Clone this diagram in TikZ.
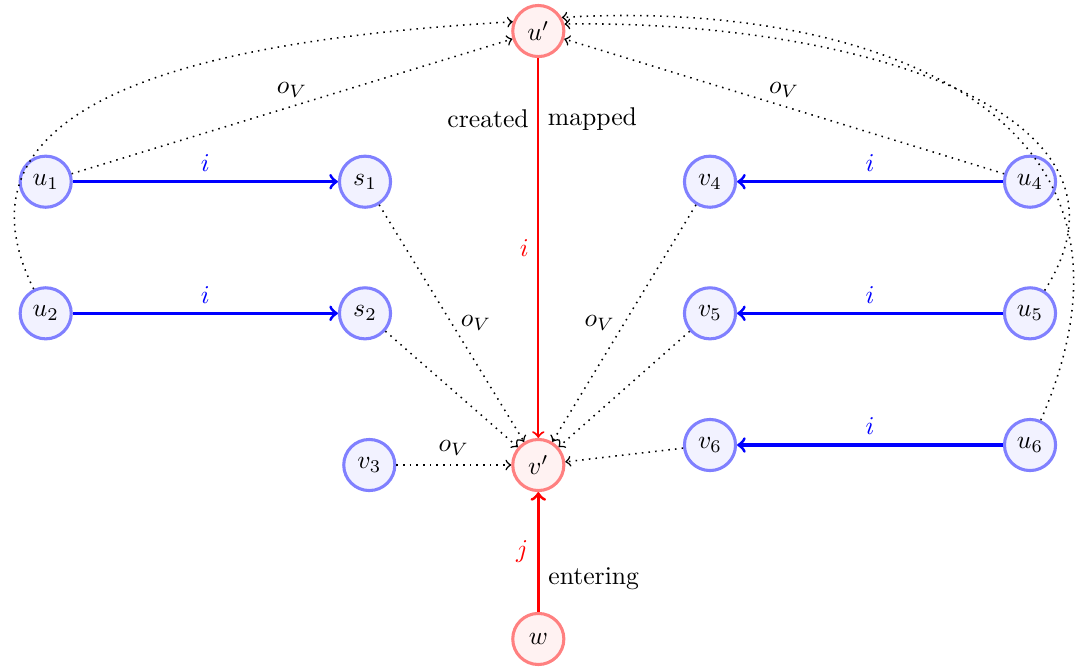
\documentclass[tikz,border=0pt]{standalone}
\usetikzlibrary{positioning}

\tikzset{
  vtx/.style={circle,draw=blue!50,fill=blue!5,very thick,minimum size=7mm,inner sep=0pt},
  rvtx/.style={circle,draw=red!50,fill=red!5,very thick,minimum size=7mm,inner sep=0pt},
  iarrow/.style={->,blue,very thick},
  oarrow/.style={->,dotted,semithick},
}

\begin{document}
\begin{tikzpicture}
        \useasboundingbox (0,0) rectangle (14.918,-9.151);
        % vertices
        \node[rvtx] (up) at (7.374,-0.425) {$u'$};
        \node[vtx] (u1) at (0.626,-2.489) {$u_1$};
        \node[vtx] (s1) at (5.000,-2.489) {$s_1$};
        \node[vtx] (v4) at (9.726,-2.489) {$v_4$};
        \node[vtx] (u4) at (14.110,-2.489) {$u_4$};
        \node[vtx] (u2) at (0.626,-4.292) {$u_2$};
        \node[vtx] (s2) at (5.000,-4.292) {$s_2$};
        \node[vtx] (v5) at (9.726,-4.292) {$v_5$};
        \node[vtx] (u5) at (14.110,-4.292) {$u_5$};
        \node[vtx] (v6) at (9.726,-6.096) {$v_6$};
        \node[vtx] (u6) at (14.110,-6.096) {$u_6$};
        \node[vtx] (v3) at (5.059,-6.370) {$v_3$};
        \node[rvtx] (vp) at (7.374,-6.370) {$v'$};
        \node[rvtx] (w) at (7.374,-8.753) {$w$};
        % i edges
        \draw[iarrow] (u1) -- node[above] {$i$} (s1);
        \draw[iarrow] (u2) -- node[above] {$i$} (s2);
        \draw[iarrow] (u4) -- node[above] {$i$} (v4);
        \draw[iarrow] (u5) -- node[above] {$i$} (v5);
        \draw[iarrow] (u6) -- node[above] {$i$} (v6);
        \draw[->,red,thick] (up) -- node[pos=0.16,left,text=black] {created}
            node[pos=0.16,right,text=black] {mapped} node[left] {$i$} (vp);
        \draw[->,red,very thick] (w) -- node[left] {$j$}
            node[pos=0.28,right,text=black] {entering} (vp);
        % o_V edges
        \draw[oarrow] (u1) -- node[above] {$o_V$} (up);
        \draw[oarrow] (u4) -- node[above] {$o_V$} (up);
        \draw[oarrow] (u2) .. controls (-0.822,-1.370) and (2.740,-0.548) .. (up.160);
        \draw[oarrow] (u5) .. controls (15.890,-1.507) and (11.644,-0.274) .. (up.15);
        \draw[oarrow] (u6) .. controls (16.164,-1.370) and (11.644,0) .. (up.30);
        \draw[oarrow] (s1) -- node[right] {$o_V$} (vp);
        \draw[oarrow] (s2) -- (vp);
        \draw[oarrow] (v3) -- node[above] {$o_V$} (vp);
        \draw[oarrow] (v4) -- node[left] {$o_V$} (vp);
        \draw[oarrow] (v5) -- (vp);
        \draw[oarrow] (v6) -- (vp);
\end{tikzpicture}
\end{document}
